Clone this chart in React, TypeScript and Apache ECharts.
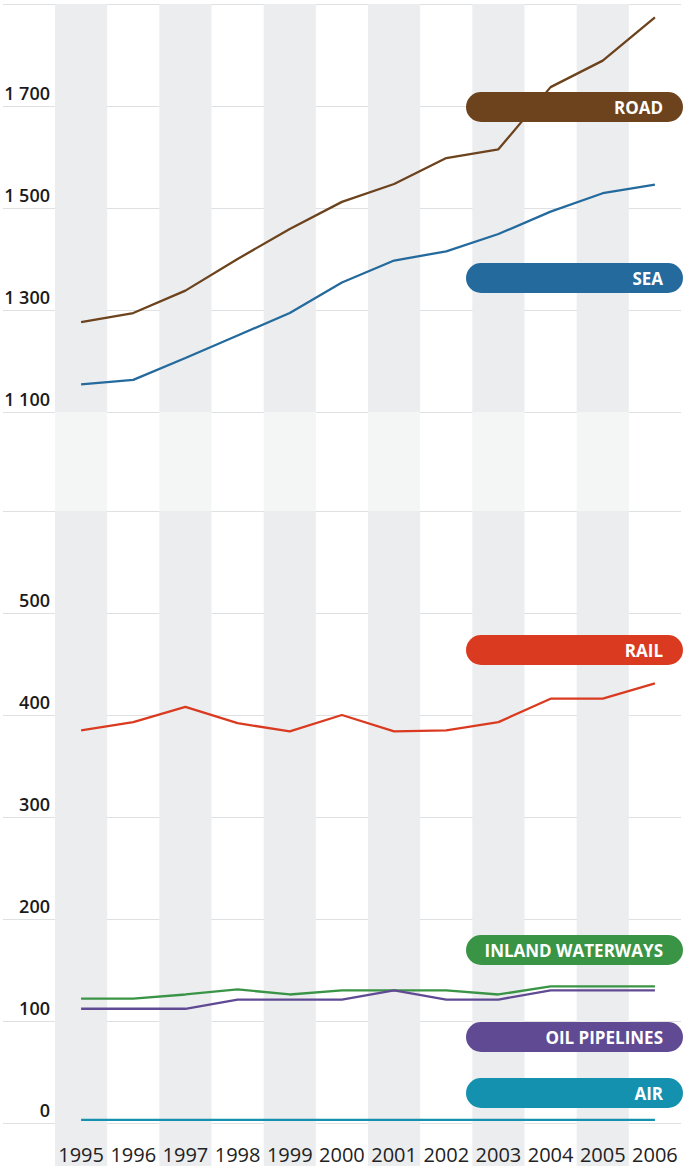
import React, { useEffect, useRef } from 'react';
import * as echarts from 'echarts';

const years = ['1995', '1996', '1997', '1998', '1999', '2000', '2001', '2002', '2003', '2004', '2005', '2006'];
const road = [1276, 1294, 1338, 1400, 1459, 1512, 1547, 1598, 1615, 1737, 1789, 1874];
const sea = [1154, 1163, 1206, 1250, 1294, 1354, 1397, 1415, 1449, 1493, 1529, 1546];
const rail = [385, 393, 408, 392, 384, 400, 384, 385, 393, 416, 416, 431];
const inland = [122, 122, 126, 131, 126, 130, 130, 130, 126, 134, 134, 134];
const oil = [112, 112, 112, 121, 121, 121, 130, 121, 121, 130, 130, 130];
const air = [3, 3, 3, 3, 3, 3, 3, 3, 3, 3, 3, 3];

const topTicks = [1100, 1300, 1500, 1700, 1900];
const topLabels = [1100, 1300, 1500, 1700];
const bottomTicks = [0, 100, 200, 300, 400, 500, 600];
const bottomLabels = [0, 100, 200, 300, 400, 500];

const COLORS = {
  road: '#6c431d',
  sea: '#246a9d',
  rail: '#da3b20',
  inland: '#3a9446',
  oil: '#604a93',
  air: '#1591b0',
};

const pills = [
  { text: 'ROAD', color: COLORS.road, top: 92 },
  { text: 'SEA', color: COLORS.sea, top: 263 },
  { text: 'RAIL', color: COLORS.rail, top: 635 },
  { text: 'INLAND WATERWAYS', color: COLORS.inland, top: 935 },
  { text: 'OIL PIPELINES', color: COLORS.oil, top: 1022 },
  { text: 'AIR', color: COLORS.air, top: 1078 },
];

const GRID_LINE = '#dfe0e2';
const STRIPE = '#ecedef';
const STRIPE_LIGHT = '#f4f5f5';
const FONT = '"Open Sans", "Noto Sans", sans-serif';

function fmt(v: number): string {
  if (v >= 1000) {
    return Math.floor(v / 1000) + ' ' + String(v % 1000).padStart(3, '0');
  }
  return String(v);
}

export default function App() {
  const ref = useRef<HTMLDivElement>(null);
  useEffect(() => {
    document.body.style.margin = '0';
    const chart = echarts.init(ref.current!, null, { renderer: 'svg' });
    const left = 55;
    const right = 6;
    const grids = [
      { left, right, top: 4, height: 408 },
      { left, right, top: 412, height: 99 },
      { left, right, top: 511, height: 612 },
      { left, right, top: 1123, height: 43 },
    ];
    const xAxes = grids.map((_, i) => ({
      type: 'category',
      gridIndex: i,
      data: years,
      boundaryGap: true,
      axisLine: { show: false },
      axisTick: { show: false, interval: 0 },
      axisLabel: {
        show: i === 2,
        interval: 0,
        margin: 21,
        color: '#222',
        fontFamily: FONT,
        fontSize: 20,
        lineHeight: 20,
      },
      splitLine: { show: false },
      splitArea: {
        show: true,
        interval: 0,
        areaStyle: { color: [i === 1 ? STRIPE_LIGHT : STRIPE, 'rgba(255,255,255,0)'] },
      },
    }));
    const labelStyle = {
      color: '#1a1a1a',
      fontFamily: FONT,
      fontWeight: 600,
      fontSize: 18,
      margin: 5,
      verticalAlign: 'bottom',
      lineHeight: 27,
      formatter: (v: number) => fmt(v),
    };
    const yAxes = [
      {
        type: 'value',
        gridIndex: 0,
        min: 1100,
        max: 1900,
        axisLine: { show: false },
        axisTick: { show: true, inside: false, length: 52, customValues: topTicks, lineStyle: { color: GRID_LINE } },
        axisLabel: { ...labelStyle, customValues: topLabels },
        splitLine: { show: true, lineStyle: { color: GRID_LINE } },
      },
      { type: 'value', gridIndex: 1, min: 0, max: 1, show: false },
      {
        type: 'value',
        gridIndex: 2,
        min: 0,
        max: 600,
        axisLine: { show: false },
        axisTick: { show: true, inside: false, length: 52, customValues: bottomTicks, lineStyle: { color: GRID_LINE } },
        axisLabel: { ...labelStyle, customValues: bottomLabels },
        splitLine: { show: true, lineStyle: { color: GRID_LINE } },
      },
      { type: 'value', gridIndex: 3, min: 0, max: 1, show: false },
    ];
    const mk = (name: string, data: number[], color: string, axis: number) => ({
      type: 'line',
      name,
      data,
      xAxisIndex: axis,
      yAxisIndex: axis,
      symbol: 'none',
      lineStyle: { color, width: 2.3 },
      itemStyle: { color },
      z: 5,
    });
    const graphic: any[] = [];
    pills.forEach((p) => {
      graphic.push({
        type: 'rect',
        shape: { x: 466, y: p.top, width: 217, height: 30, r: 15 },
        style: { fill: p.color },
        z: 100,
      });
      graphic.push({
        type: 'text',
        x: 663,
        y: p.top + 15,
        style: {
          text: p.text,
          fill: '#ffffff',
          font: '700 17px ' + FONT,
          align: 'right',
          verticalAlign: 'middle',
        },
        z: 101,
      });
    });
    chart.setOption({
      animation: false,
      backgroundColor: '#ffffff',
      grid: grids,
      xAxis: xAxes,
      yAxis: yAxes,
      series: [
        mk('Road', road, COLORS.road, 0),
        mk('Sea', sea, COLORS.sea, 0),
        mk('Rail', rail, COLORS.rail, 2),
        mk('Inland waterways', inland, COLORS.inland, 2),
        mk('Oil pipelines', oil, COLORS.oil, 2),
        mk('Air', air, COLORS.air, 2),
      ],
      graphic,
    });
    return () => chart.dispose();
  }, []);
  return <div ref={ref} style={{ width: 687, height: 1166 }} />;
}
